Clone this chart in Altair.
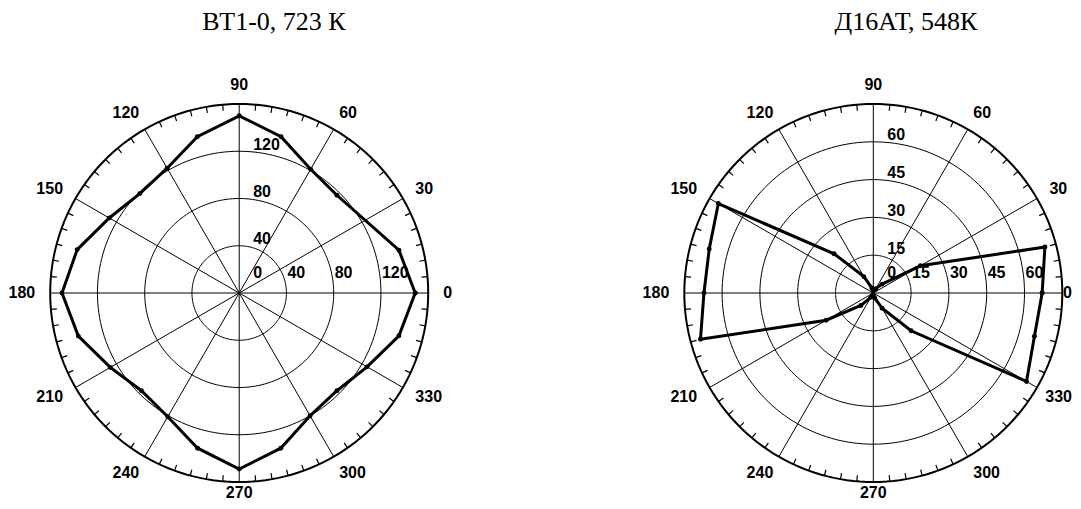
import altair as alt
import pandas as pd
import numpy as np

# ---------------- data ----------------
angles_left = [0, 15, 45, 60, 75, 90, 105, 120, 135, 150, 165, 180,
               195, 210, 225, 240, 255, 270, 285, 300, 315, 330, 345]
values_left = [149, 140, 117, 121, 137, 150, 137, 122, 119, 127, 142, 150,
               141, 126, 117, 121, 136, 149, 136, 120, 117, 125, 140]

angles_right = [0, 15, 30, 45, 60, 75, 90, 105, 120, 135, 150, 165,
                180, 195, 210, 225, 240, 255, 270, 285, 300, 315, 330, 345]
values_right = [67, 70.5, 21.6, 5, 2, 1, 1, 2, 7.5, 22, 71, 67.4,
                67.2, 71, 21.6, 7, 2, 1, 1, 2, 7, 21.2, 70.2, 66.2]

rings_left = [40, 80, 120]
rings_right = [15, 30, 45, 60]
rmax_left = 160
rmax_right = 75
angle_labels = [0, 30, 60, 90, 120, 150, 180, 210, 240, 270, 300, 330]
titles = ["ВТ1-0, 723 К", "Д16АТ, 548К"]

# ---------------- layout constants ----------------
PX = 189.0                      # pixels per unit radius
W, H = 1065, 493
CY = 293.0
CX = [0.0, (873.3 - 239.2) / PX]
x0 = (8 - 239.2) / PX
x1 = x0 + W / PX
y1 = (CY - 8) / PX
y0 = y1 - H / PX
title_x = [(274 - 239.2) / PX, (906 - 239.2) / PX]
title_y = (CY - 22) / PX
RL = 208 / PX                   # angle-label radius
DIGIT = 8.9 / PX                # approx. width of one bold digit at 16px
x_right_limit = x1 - 1.0 / PX

panels = [
    dict(angles=angles_left, values=values_left, rings=rings_left, rmax=rmax_left, cx=CX[0]),
    dict(angles=angles_right, values=values_right, rings=rings_right, rmax=rmax_right, cx=CX[1]),
]

# ---------------- tables ----------------
series_rows, ring_rows, outer_rows, spoke_rows, tick_rows = [], [], [], [], []
alab_rows, rlab_rows, title_rows = [], [], []
for p_i, p in enumerate(panels):
    cx, rmax = p["cx"], p["rmax"]
    n = len(p["angles"])
    for k in range(n + 1):
        a = p["angles"][k % n]
        v = p["values"][k % n]
        series_rows.append(dict(panel=p_i, order=k, angle=a, value=v, rmax=rmax, cx=cx))
    circ = np.arange(0, 361, 2)
    for rv in p["rings"]:
        for j, a in enumerate(circ):
            t = np.deg2rad(a)
            ring_rows.append(dict(key=f"{p_i}-{rv}", o=j,
                                  x=cx + rv / rmax * np.cos(t), y=rv / rmax * np.sin(t)))
    for j, a in enumerate(circ):
        t = np.deg2rad(a)
        outer_rows.append(dict(key=f"{p_i}", o=j, x=cx + np.cos(t), y=np.sin(t)))
    for a in angle_labels:
        t = np.deg2rad(a)
        spoke_rows.append(dict(x=cx, y=0.0, x2=cx + np.cos(t), y2=np.sin(t)))
        c, s = np.cos(t), np.sin(t)
        if c > 0.1:
            al = "left"
        elif c < -0.1:
            al = "right"
        else:
            al = "center"
        lx = cx + RL * c + (-4 / PX if al == "left" else (4 / PX if al == "right" else 0))
        ly = RL * s
        if a == 270:
            ly = -200 / PX          # keep the bottom label inside the page
        if al == "left" and lx + len(str(a)) * DIGIT > x_right_limit:
            lx = x_right_limit      # keep labels at the right edge visible
            al = "right"
        alab_rows.append(dict(x=lx, y=ly, text=str(a), align=al))
    for a in range(5, 360, 5):
        if a % 30 == 0:
            continue
        t = np.deg2rad(a)
        r_in = 1 - 6 / PX
        tick_rows.append(dict(x=cx + r_in * np.cos(t), y=r_in * np.sin(t),
                              x2=cx + np.cos(t), y2=np.sin(t)))
    rlab_rows.append(dict(x=cx + 14 / PX, y=20 / PX, text="0"))
    for rv in p["rings"]:
        rlab_rows.append(dict(x=cx + rv / rmax + 1 / PX, y=20 / PX, text=str(rv)))
        rlab_rows.append(dict(x=cx + 14 / PX, y=rv / rmax + 6.5 / PX, text=str(rv)))
    title_rows.append(dict(x=title_x[p_i], y=title_y, text=titles[p_i]))

series = pd.DataFrame(series_rows)
rings = pd.DataFrame(ring_rows)
outer = pd.DataFrame(outer_rows)
spokes = pd.DataFrame(spoke_rows)
ticks = pd.DataFrame(tick_rows)
alabs = pd.DataFrame(alab_rows)
rlabs = pd.DataFrame(rlab_rows)
tdf = pd.DataFrame(title_rows)

xs = alt.Scale(domain=[x0, x1], nice=False, zero=False)
ys = alt.Scale(domain=[y0, y1], nice=False, zero=False)
X = lambda f: alt.X(f, type="quantitative", scale=xs, axis=None)
Y = lambda f: alt.Y(f, type="quantitative", scale=ys, axis=None)

ring_layer = alt.Chart(rings).mark_line(color="black", strokeWidth=1).encode(
    x=X("x"), y=Y("y"), detail="key:N", order="o:Q")
outer_layer = alt.Chart(outer).mark_line(color="black", strokeWidth=2).encode(
    x=X("x"), y=Y("y"), detail="key:N", order="o:Q")
spoke_layer = alt.Chart(spokes).mark_rule(color="black", strokeWidth=1).encode(
    x=X("x"), y=Y("y"), x2="x2:Q", y2="y2:Q")
tick_layer = alt.Chart(ticks).mark_rule(color="black", strokeWidth=1.2).encode(
    x=X("x"), y=Y("y"), x2="x2:Q", y2="y2:Q")

base = alt.Chart(series).transform_calculate(
    px="datum.cx + datum.value / datum.rmax * cos(datum.angle * PI / 180)",
    py="datum.value / datum.rmax * sin(datum.angle * PI / 180)",
)
line_layer = base.mark_line(color="black", strokeWidth=3).encode(
    x=X("px"), y=Y("py"), detail="panel:N", order="order:Q")
dot_layer = base.mark_point(filled=True, size=24, color="black", opacity=1).encode(
    x=X("px"), y=Y("py"))

alab_layers = [
    alt.Chart(alabs).transform_filter(alt.datum.align == al).mark_text(
        font="Liberation Sans", fontWeight="bold", fontSize=16, color="black",
        align=al, baseline="middle").encode(x=X("x"), y=Y("y"), text="text:N")
    for al in ["left", "right", "center"]
]
rlab_layer = alt.Chart(rlabs).mark_text(
    font="Liberation Sans", fontWeight="bold", fontSize=16, color="black",
    align="left", baseline="middle").encode(x=X("x"), y=Y("y"), text="text:N")
title_layer = alt.Chart(tdf).mark_text(
    font="Liberation Serif", fontSize=26, color="black",
    align="center", baseline="middle").encode(x=X("x"), y=Y("y"), text="text:N")

chart = alt.layer(
    ring_layer, outer_layer, spoke_layer, tick_layer,
    line_layer, dot_layer, *alab_layers, rlab_layer, title_layer,
).properties(
    width=W, height=H,
    autosize=alt.AutoSizeParams(type="none"),
    padding=0,
    background="white",
).configure_view(stroke=None)

chart.save("out.html", embed_options={"renderer": "svg", "actions": False})
